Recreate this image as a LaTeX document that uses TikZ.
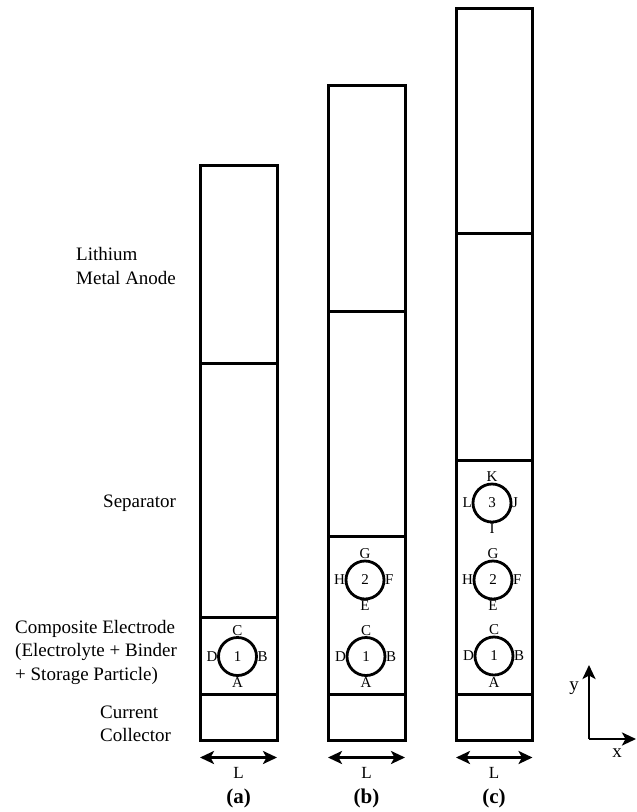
\documentclass[tikz,border=0pt]{standalone}
\usepackage{fontspec}
\setmainfont{Liberation Serif}
\usetikzlibrary{arrows.meta}
\begin{document}
\begin{tikzpicture}[x=1pt,y=-1pt,
  cell/.style={line width=3pt},
  part/.style={circle,draw,line width=2.8pt,minimum size=38pt,inner sep=0pt,
    font=\fontsize{15}{17}\selectfont},
  pt/.style={font=\fontsize{15}{17}\selectfont,inner sep=1.5pt},
  side/.style={font=\fontsize{19}{23.5}\selectfont,align=left,anchor=west,inner sep=0pt},
  span/.style={line width=2.8pt,{Stealth[length=14pt,width=13pt,inset=3.5pt]}-{Stealth[length=14pt,width=13pt,inset=3.5pt]}},
  axis/.style={line width=2.8pt,-{Stealth[length=14pt,width=13pt,inset=3.5pt]}},
  dimtxt/.style={font=\fontsize{17}{19}\selectfont},
  tag/.style={font=\fontsize{21}{23}\bfseries\selectfont},
  axtxt/.style={font=\fontsize{19}{21}\selectfont}]
\useasboundingbox (0,0) rectangle (637,812);

% side captions
\node[side] (tAnode) at (76,266) {Lithium\\Metal Anode};
\node[side] (tSep) at (103,503) {Separator};
\node[side] (tElec) at (15,652) {Composite Electrode\\(Electrolyte + Binder\\+ Storage Particle)};
\node[side] (tColl) at (100,724) {Current\\Collector};

% cell (a)
\draw[cell] (200,165) rectangle (277,740);
\draw[cell] (200,363) -- (277,363);
\draw[cell] (200,617) -- (277,617);
\draw[cell] (200,694.5) -- (277,694.5);
% cell (b)
\draw[cell] (328,85) rectangle (405,740);
\draw[cell] (328,311) -- (405,311);
\draw[cell] (328,536) -- (405,536);
\draw[cell] (328,694.5) -- (405,694.5);
% cell (c)
\draw[cell] (456,8) rectangle (532.5,740);
\draw[cell] (456,233) -- (532.5,233);
\draw[cell] (456,460) -- (532.5,460);
\draw[cell] (456,694.5) -- (532.5,694.5);

% storage particles with their boundary points
\node[part,
  label={[pt,label distance=-1pt]90:C},label={[pt,label distance=-2pt]0:B},
  label={[pt,label distance=-1pt]-90:A},label={[pt,label distance=-2pt]180:D}]
  (a1) at (237.5,656.5) {1};

\node[part,
  label={[pt,label distance=-1pt]90:C},label={[pt,label distance=-2pt]0:B},
  label={[pt,label distance=-1pt]-90:A},label={[pt,label distance=-2pt]180:D}]
  (b1) at (366,656.5) {1};
\node[part,
  label={[pt,label distance=-1pt]90:G},label={[pt,label distance=-2pt]0:F},
  label={[pt,label distance=-1pt]-90:E},label={[pt,label distance=-2pt]180:H}]
  (b2) at (365,580) {2};

\node[part,
  label={[pt,label distance=-1pt]90:C},label={[pt,label distance=-2pt]0:B},
  label={[pt,label distance=-1pt]-90:A},label={[pt,label distance=-2pt]180:D}]
  (c1) at (494,656) {1};
\node[part,
  label={[pt,label distance=-1pt]90:G},label={[pt,label distance=-2pt]0:F},
  label={[pt,label distance=-1pt]-90:E},label={[pt,label distance=-2pt]180:H}]
  (c2) at (493,580) {2};
\node[part,
  label={[pt,label distance=-1pt]90:K},label={[pt,label distance=-2pt]0:J},
  label={[pt,label distance=-1pt]-90:I},label={[pt,label distance=-2pt]180:L}]
  (c3) at (492,503) {3};

% width arrows and panel tags
\coordinate (aL) at (200,757.5); \coordinate (aR) at (277,757.5);
\coordinate (bL) at (328,757.5); \coordinate (bR) at (405,757.5);
\coordinate (cL) at (456,757.5); \coordinate (cR) at (532.5,757.5);
\draw[span] (aL) -- (aR);
\draw[span] (bL) -- (bR);
\draw[span] (cL) -- (cR);
\node[dimtxt] (la) at (238.5,773) {L};
\node[dimtxt] (lb) at (366.5,773) {L};
\node[dimtxt] (lc) at (494,773) {L};
\node[tag] (ta) at (238.5,798) {(a)};
\node[tag] (tb) at (366.5,798) {(b)};
\node[tag] (tc) at (494,798) {(c)};

% coordinate axes
\coordinate (o) at (589,739);
\coordinate (ytip) at (589,665);
\coordinate (xtip) at (636,739);
\draw[axis] (o) -- (ytip);
\draw[axis] (o) -- (xtip);
\node[axtxt] (ly) at (574,688) {y};
\node[axtxt] (lx) at (617,753) {x};
\end{tikzpicture}
\end{document}
